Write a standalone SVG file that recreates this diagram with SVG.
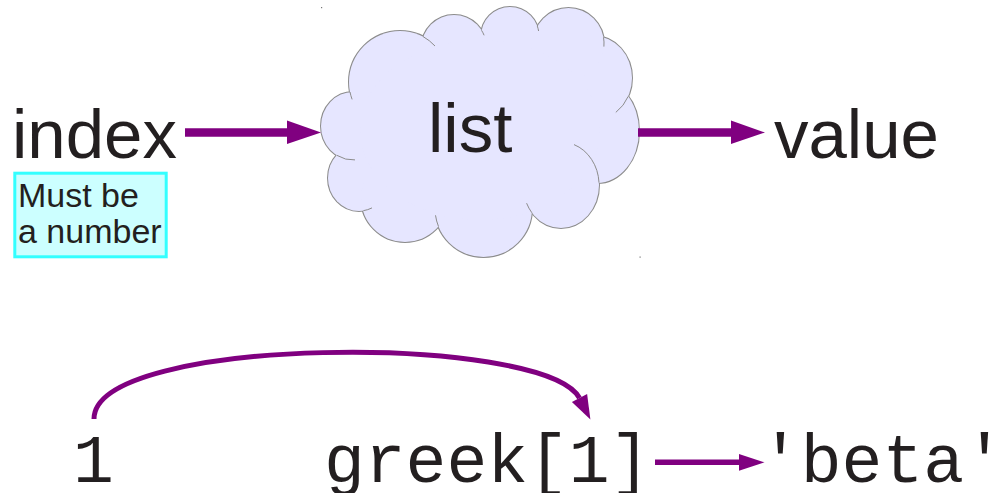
<svg xmlns="http://www.w3.org/2000/svg" xmlns:xlink="http://www.w3.org/1999/xlink" width="1004" height="493" viewBox="0 0 1004 493">
  <style>
    .big { font-family: "Liberation Sans", Arial, sans-serif; font-size: 69px; fill: #231f20; }
    .note { font-family: "Liberation Sans", Arial, sans-serif; font-size: 34px; fill: #231f20; }
    .mono { font-family: "Liberation Mono", "Courier New", monospace; font-size: 68px; fill: #231f20; }
    .conn { stroke: #800080; fill: none; }
    .head { fill: #800080; stroke: none; }
    .tail { fill: none; stroke: #8c8c8c; stroke-width: 1; }
  </style>
  <defs>
    <g id="lobes">
      <ellipse cx="353" cy="126" rx="32" ry="34"/>
      <ellipse cx="359" cy="178" rx="31" ry="33"/>
      <circle cx="405" cy="198" r="44"/>
      <circle cx="483.5" cy="208.5" r="48.5"/>
      <ellipse cx="561" cy="185" rx="38" ry="43"/>
      <ellipse cx="597" cy="131" rx="42" ry="52"/>
      <ellipse cx="594" cy="78" rx="38" ry="42"/>
      <circle cx="568.5" cy="43.5" r="35.5"/>
      <circle cx="510" cy="36" r="29"/>
      <circle cx="454" cy="47.5" r="32.5"/>
      <circle cx="400" cy="82" r="51"/>
    </g>
  </defs>
  <rect width="1004" height="493" fill="#ffffff"/>

  <g id="node-list">
    <use xlink:href="#lobes" fill="#e6e6ff" stroke="#8c8c8c" stroke-width="2"/>
    <use xlink:href="#lobes" fill="#e6e6ff" stroke="none"/>
    <ellipse cx="480" cy="130" rx="120" ry="90" fill="#e6e6ff"/>
    <path class="tail" d="M350,92 A51,51 0 0 0 352.1,99.4"/>
    <path class="tail" d="M423,36.5 A51,51 0 0 1 435,46"/>
    <path class="tail" d="M481.6,30.4 A32.5,32.5 0 0 1 484.1,35.3"/>
    <path class="tail" d="M537.3,26.1 A29,29 0 0 1 538.6,31"/>
    <path class="tail" d="M603.5,37.3 A35.5,35.5 0 0 1 603.9,46.6"/>
    <path class="tail" d="M628.2,96.4 A38,42 0 0 1 615.8,112.4"/>
    <path class="tail" d="M599,182.7 A38,43 0 0 0 574,144.6"/>
    <path class="tail" d="M531.8,212.7 A38,43 0 0 1 526.6,203.2"/>
    <path class="tail" d="M438.5,226.5 A48.5,48.5 0 0 1 435.5,215.3"/>
    <path class="tail" d="M363.3,210.7 A31,33 0 0 0 372,207.9"/>
    <path class="tail" d="M355,159.9 A32,34 0 0 1 337,155.4"/>
    <rect x="321" y="7" width="1.2" height="1.2" fill="#777"/>
    <rect x="639.5" y="256.5" width="1.2" height="1.2" fill="#777"/>
    <text class="big" x="428" y="152">list</text>
  </g>

  <g id="node-index">
    <text class="big" x="12" y="158">index</text>
  </g>

  <g id="node-value">
    <text class="big" x="774" y="158">value</text>
  </g>

  <g id="node-note">
    <rect x="14.8" y="173.2" width="151.4" height="83.6" fill="#ccffff" stroke="#33ffff" stroke-width="3"/>
    <text class="note" x="18" y="206.7">Must be</text>
    <text class="note" x="18" y="243.3">a number</text>
  </g>

  <g id="node-1">
    <text class="mono" x="73" y="482">1</text>
  </g>

  <g id="node-greek">
    <text class="mono" x="324" y="482">greek[1]</text>
  </g>

  <g id="node-beta">
    <text class="mono" x="760" y="482">'beta'</text>
  </g>

  <g id="connectors">
    <line class="conn" x1="185" y1="132.5" x2="288" y2="132.5" stroke-width="8.5"/>
    <polygon class="head" points="287,120.5 321,132.5 287,144"/>
    <line class="conn" x1="638" y1="132.5" x2="732" y2="132.5" stroke-width="8.5"/>
    <polygon class="head" points="731,120.5 765,132.5 731,144"/>
    <path class="conn" d="M94,419 C94,335 543,333 579.5,398" stroke-width="5"/>
    <polygon class="head" points="587.1,394.1 590.4,419.4 571.9,401.9"/>
    <line class="conn" x1="655" y1="462.3" x2="740" y2="462.3" stroke-width="5.5"/>
    <polygon class="head" points="739,454 764.5,462.3 739,470.7"/>
  </g>
</svg>
